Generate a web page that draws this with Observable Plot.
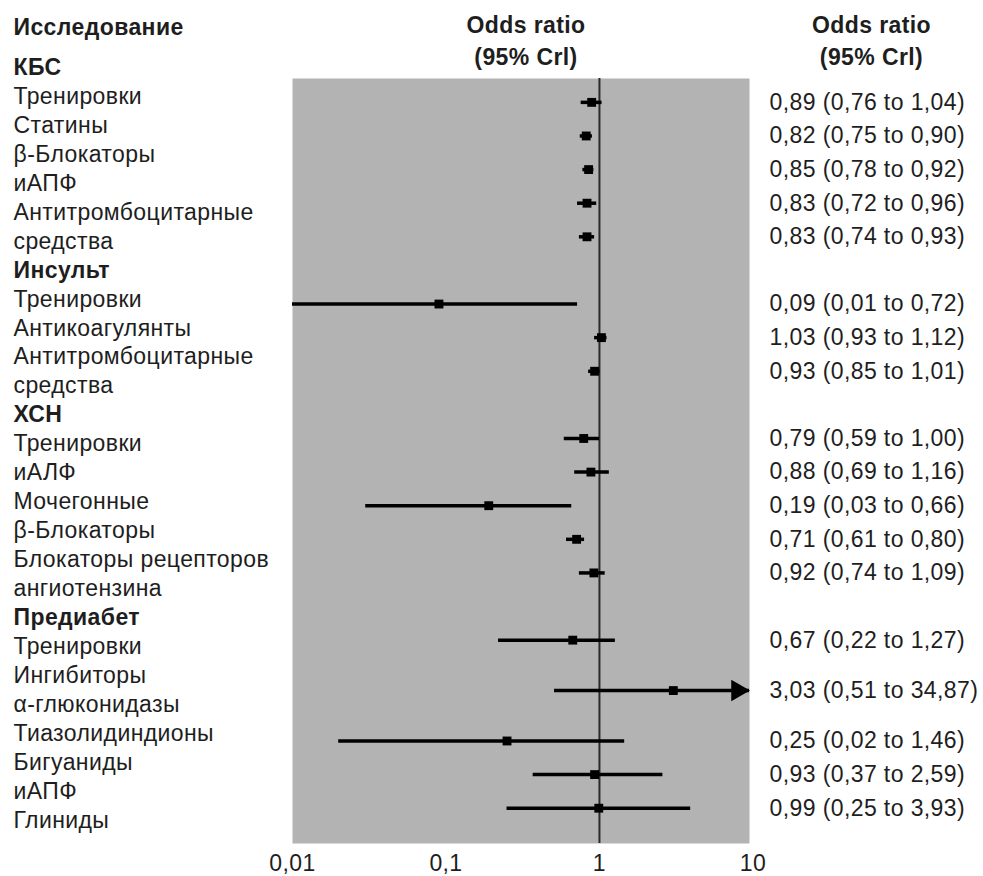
<!DOCTYPE html>
<html><head><meta charset="utf-8">
<script src="https://cdn.jsdelivr.net/npm/d3@7"></script>
<script src="https://cdn.jsdelivr.net/npm/@observablehq/plot@0.6"></script>
<style>
body{margin:0;background:#fff;}
#wrap{position:relative;width:983px;height:876px;}
#wrap svg{position:absolute;top:0;left:0;}
</style></head><body><div id="wrap"></div>
<script>
// ---- data ----
const groups = ["КБС", "Инсульт", "ХСН", "Предиабет"];
const studyGroup = [0,0,0,0,0, 1,1,1, 2,2,2,2,2, 3,3,3,3,3];
const studyLines = [1,1,1,1,1, 1,1,1, 1,1,1,1,1, 1,2,1,1,1];
const oddsRatio = [0.89,0.82,0.85,0.83,0.83, 0.09,1.03,0.93, 0.79,0.88,0.19,0.71,0.92, 0.67,3.03,0.25,0.93,0.99];
const ciLow     = [0.76,0.75,0.78,0.72,0.74, 0.01,0.93,0.85, 0.59,0.69,0.03,0.61,0.74, 0.22,0.51,0.02,0.37,0.25];
const ciHigh    = [1.04,0.90,0.92,0.96,0.93, 0.72,1.12,1.01, 1.00,1.16,0.66,0.80,1.09, 1.27,34.87,1.46,2.59,3.93];
const labelLines = ["КБС","Тренировки","Статины","β-Блокаторы","иАПФ","Антитромбоцитарные","средства",
  "Инсульт","Тренировки","Антикоагулянты","Антитромбоцитарные","средства",
  "ХСН","Тренировки","иАЛФ","Мочегонные","β-Блокаторы","Блокаторы рецепторов","ангиотензина",
  "Предиабет","Тренировки","Ингибиторы","α-глюконидазы","Тиазолидиндионы","Бигуаниды","иАПФ","Глиниды"];
const labelBold = labelLines.map(s => groups.includes(s));
const xTicks = [0.01, 0.1, 1, 10];
const xTickLabels = ["0,01", "0,1", "1", "10"];
const headerStudy = "Исследование";
const headerOR = ["Odds ratio", "(95% Crl)"];

// ---- build rows ----
const fmt = v => d3.format(".2f")(v).replace(".", ",");
let slot = -2, prev = -1;
const rows = oddsRatio.map((v, i) => {
  if (studyGroup[i] !== prev) { slot += 1; prev = studyGroup[i]; }
  const row = slot + 1 + (studyLines[i] - 1) / 2;
  slot += studyLines[i];
  return {or: v, lo: ciLow[i], hi: ciHigh[i], row,
    label: `${fmt(v)} (${fmt(ciLow[i])} to ${fmt(ciHigh[i])})`};
});

const font = "'Liberation Sans', Arial, Helvetica, sans-serif";
const style = {background: "transparent", fontFamily: font, fontSize: "23px", color: "#1e1e1e", letterSpacing: "0.4px"};
const xDomain = [0.01, 9.5];
const hdr = {fontSize: 23, fontWeight: "bold", lineAnchor: "middle"};

const main = Plot.plot({
  width: 983, height: 876,
  marginLeft: 292, marginRight: 234, marginTop: 78, marginBottom: 33,
  x: {type: "log", domain: xDomain, axis: null},
  y: {domain: [-0.71, 22.05], reverse: true, axis: null},
  style,
  marks: [
    Plot.frame({fill: "#b3b3b3", stroke: "none"}),
    Plot.ruleX([1], {stroke: "#2a2a2a", strokeWidth: 2}),
    Plot.ruleY(rows, {y: "row", x1: "lo", x2: "hi", stroke: "black", strokeWidth: 3.5, clip: true}),
    Plot.dot(rows, {x: "or", y: "row", symbol: "square", r: 5, fill: "black", stroke: "none"}),
    Plot.dot(rows.filter(d => d.hi > xDomain[1]), {y: "row", frameAnchor: "right", symbol: "triangle", rotate: 90, r: 8, fill: "black", stroke: "none", dx: -12}),
    Plot.text(rows, {y: "row", text: "label", frameAnchor: "right", textAnchor: "start", dx: 20, fontSize: 23}),
    Plot.text(xTicks, {x: d => d, text: (d, i) => xTickLabels[i], frameAnchor: "bottom", lineAnchor: "middle", dy: 20, fontSize: 23}),
    Plot.text([headerOR[0]], {...hdr, frameAnchor: "top", dx: 5, dy: -53}),
    Plot.text([headerOR[1]], {...hdr, frameAnchor: "top", dx: 5, dy: -21}),
    Plot.text([headerOR[0]], {...hdr, frameAnchor: "top-right", textAnchor: "middle", dx: 122, dy: -53}),
    Plot.text([headerOR[1]], {...hdr, frameAnchor: "top-right", textAnchor: "middle", dx: 122, dy: -21})
  ]
});

const idx = d3.range(labelLines.length);
const left = Plot.plot({
  width: 290, height: 876,
  marginLeft: 13, marginRight: 0, marginTop: 67, marginBottom: 56,
  y: {domain: [0, labelLines.length - 1], reverse: true, axis: null},
  style,
  marks: [
    Plot.text(idx.filter(i => !labelBold[i]), {y: i => i, text: i => labelLines[i], frameAnchor: "left", textAnchor: "start", fontSize: 23}),
    Plot.text(idx.filter(i => labelBold[i]), {y: i => i, text: i => labelLines[i], frameAnchor: "left", textAnchor: "start", fontSize: 23, fontWeight: "bold"}),
    Plot.text([headerStudy], {...hdr, frameAnchor: "top-left", textAnchor: "start", dy: -40})
  ]
});

const wrap = document.getElementById("wrap");
wrap.appendChild(main);
wrap.appendChild(left);
</script></body></html>
